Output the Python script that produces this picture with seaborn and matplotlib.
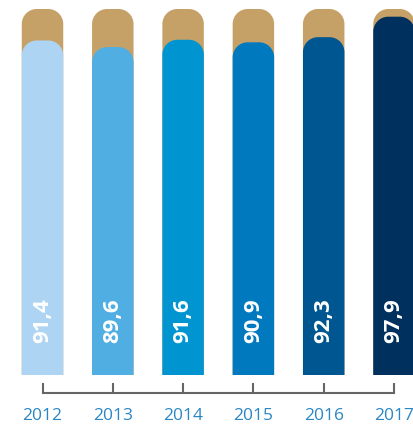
import matplotlib
matplotlib.use('Agg')
import matplotlib.pyplot as plt
import seaborn as sns
import pandas as pd
from matplotlib.path import Path
from matplotlib.patches import PathPatch

# data
years = ['2012', '2013', '2014', '2015', '2016', '2017']
values = [91.4, 89.6, 91.6, 90.9, 92.3, 97.9]
total = [100, 100, 100, 100, 100, 100]
labels = ['91,4', '89,6', '91,6', '90,9', '92,3', '97,9']

bar_colors = ['#aed4f3', '#51aee2', '#0094d1', '#0079bf', '#005690', '#00305e']
tan = '#c6a167'
axis_grey = '#666666'
year_blue = '#2a86c4'

df = pd.DataFrame({'year': years, 'value': values, 'total': total})

W, H = 413, 428
fig = plt.figure(figsize=(W / 100, H / 100), dpi=100)
ax = fig.add_axes([0, 0, 1, 1])

sns.set_style('white')
plt.rcParams['font.family'] = ['Open Sans', 'DejaVu Sans']

sns.barplot(data=df, x='year', y='total', color=tan, width=0.59,
            saturation=1, linewidth=0, ax=ax)
sns.barplot(data=df, x='year', y='value', hue='year', palette=bar_colors,
            width=0.59, saturation=1, linewidth=0, legend=False, ax=ax)

# pixel geometry -> data limits
px_x = 70.3          # pixels per category
x0_px = 42.5         # centre of first bar
px_y = 3.66          # pixels per unit value
base_row = 375       # pixel row of value 0 (from top)
ax.set_xlim(-x0_px / px_x, (W - x0_px) / px_x)
ax.set_ylim(-(H - base_row) / px_y, base_row / px_y)

# replace rectangles with round-topped bars
rx = 15 / px_x
ry = 15 / px_y
k = 0.5523
for p in list(ax.patches):
    x0, y0 = p.get_x(), p.get_y()
    w, h = p.get_width(), p.get_height()
    x1, y1 = x0 + w, y0 + h
    verts = [
        (x0, y0), (x0, y1 - ry),
        (x0, y1 - ry + k * ry), (x0 + rx - k * rx, y1), (x0 + rx, y1),
        (x1 - rx, y1),
        (x1 - rx + k * rx, y1), (x1, y1 - ry + k * ry), (x1, y1 - ry),
        (x1, y0), (x0, y0),
    ]
    codes = [Path.MOVETO, Path.LINETO,
             Path.CURVE4, Path.CURVE4, Path.CURVE4,
             Path.LINETO,
             Path.CURVE4, Path.CURVE4, Path.CURVE4,
             Path.LINETO, Path.CLOSEPOLY]
    front = 1 if h < 100 else 0
    ax.add_patch(PathPatch(Path(verts, codes), facecolor=p.get_facecolor(),
                           edgecolor='none', zorder=p.get_zorder() + front))
    p.remove()

for i, lab in enumerate(labels):
    ax.text(i, 32 / px_y, lab, rotation=90, ha='center', va='bottom',
            color='white', fontsize=16, fontweight='bold', zorder=5)

# axis line with upward ticks
for s in ['top', 'right', 'left']:
    ax.spines[s].set_visible(False)
ax.spines['bottom'].set_position(('data', -(393 - base_row) / px_y))
ax.spines['bottom'].set_bounds(0, 5)
ax.spines['bottom'].set_color(axis_grey)
ax.spines['bottom'].set_linewidth(1.5)
ax.tick_params(axis='x', direction='in', length=7.5, width=1.5,
               color=axis_grey, pad=11, labelsize=12.5, labelcolor=year_blue)
ax.set_yticks([])
ax.set_xlabel('')
ax.set_ylabel('')
ax.set_facecolor('white')

fig.savefig('out.png', dpi=100)
